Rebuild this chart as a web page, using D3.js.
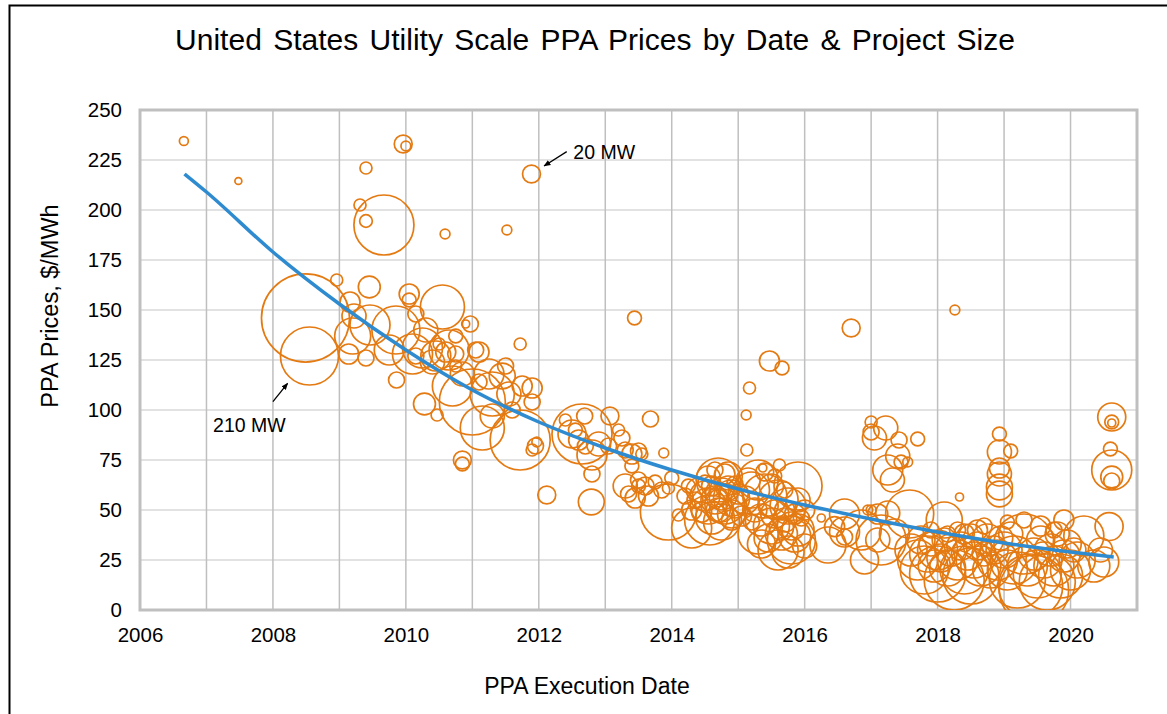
<!DOCTYPE html>
<html>
<head>
<meta charset="utf-8">
<script src="https://cdn.jsdelivr.net/npm/d3@7"></script>
<style>
  body { margin: 0; background: #fff; }
  svg { display: block; font-family: "Liberation Sans", Arial, sans-serif; }
</style>
</head>
<body>
<div id="chart"></div>
<script>
(function() {
  var W = 1167, H = 714;

  // PPA execution date (decimal year), price ($/MWh), project size (MW)
  var ppaDate = [
    2006.66, 2007.48, 2009.4, 2009.31, 2009.4, 2009.67, 2008.96, 2008.49, 2008.55, 2009.16,
    2009.45, 2009.46, 2009.22, 2009.14, 2009.4, 2009.86, 2009.2, 2009.96, 2010.0, 2010.05,
    2010.05, 2010.55, 2010.97, 2010.9, 2011.05, 2010.59, 2011.52, 2011.89, 2011.72, 2013.44,
    2009.85, 2010.25, 2010.6, 2010.4, 2010.75, 2010.5, 2010.15, 2010.3, 2010.75, 2010.15,
    2009.75, 2010.1, 2010.45, 2010.65, 2011.1,
    2011.0, 2011.15, 2011.72, 2011.95, 2011.9, 2011.97, 2012.12, 2012.65, 2012.8, 2012.8,
    2012.79, 2012.69, 2013.07, 2013.3, 2013.35, 2011.9, 2011.9, 2010.28, 2010.47, 2010.85, 2010.85,
    2010.7, 2010.85, 2011.25, 2011.45, 2011.3, 2011.55, 2011.75, 2011.3, 2011.1, 2011.6, 2010.75, 2011.5,
    2012.5, 2012.6, 2012.55, 2012.7, 2012.9, 2013.05, 2013.25, 2013.4, 2013.4, 2013.2, 2012.4,
    2013.3, 2013.45, 2013.5,
    2015.17, 2015.12, 2015.13, 2013.68, 2013.5, 2013.55, 2013.88, 2015.62, 2015.37, 2015.47, 2015.66,
    2013.6, 2013.75, 2013.85, 2013.65, 2013.95, 2013.5, 2014.0, 2014.3, 2014.1, 2013.95,
    2014.4, 2014.5, 2014.55, 2014.6, 2014.65, 2014.7, 2014.7, 2014.75, 2014.8, 2014.8,
    2014.85, 2014.9, 2014.9, 2014.95, 2014.95, 2014.6, 2014.45, 2014.35, 2014.75, 2014.85,
    2014.65, 2014.55, 2015.0, 2014.5, 2014.7, 2014.8, 2014.2, 2014.25, 2014.3, 2014.57,
    2015.1, 2015.2, 2015.25, 2015.3, 2015.35, 2015.4, 2015.45, 2015.5, 2015.5, 2015.55,
    2015.6, 2015.65, 2015.7, 2015.7, 2015.75, 2015.8, 2015.8, 2015.85, 2015.9, 2015.9,
    2015.95, 2016.0, 2015.2, 2015.3, 2015.15, 2015.05, 2015.6, 2015.75, 2016.0, 2015.4,
    2015.55, 2015.9, 2015.45, 2015.65, 2015.85, 2014.75, 2014.9, 2015.35, 2015.7,
    2016.25, 2016.45, 2016.6, 2016.35, 2016.9, 2016.6, 2016.95, 2016.85, 2017.15, 2017.1, 2016.6,
    2016.7, 2018.26,
    2017.22, 2017.42, 2017.7, 2017.45, 2017.55, 2017.25, 2017.32, 2017.0, 2017.0, 2017.05, 2017.4,
    2018.33, 2017.0, 2017.58, 2018.1, 2017.25, 2017.35, 2017.1,
    2017.6, 2017.7, 2017.75, 2017.8, 2017.85, 2017.9, 2017.95, 2018.0, 2018.0, 2018.05,
    2018.1, 2018.15, 2018.2, 2018.25, 2018.3, 2018.35, 2018.4, 2018.45, 2018.5, 2018.5,
    2018.55, 2018.6, 2018.65, 2018.7, 2018.75, 2018.8, 2018.85, 2018.9, 2018.4, 2018.3,
    2018.6, 2018.15, 2017.9, 2018.95, 2018.7,
    2018.93, 2018.93, 2019.1, 2018.93, 2018.93, 2018.93, 2018.93,
    2019.0, 2019.05, 2019.1, 2019.15, 2019.2, 2019.3, 2019.35, 2019.4, 2019.45, 2019.5,
    2019.55, 2019.6, 2019.65, 2019.7, 2019.75, 2019.8, 2019.85, 2019.9, 2019.95, 2020.0,
    2020.05, 2020.1, 2019.55, 2019.75, 2019.3, 2019.05, 2019.9, 2019.45,
    2020.35, 2020.2, 2020.45, 2020.5, 2020.58,
    2020.62, 2020.62, 2020.62, 2020.6, 2020.62, 2020.62, 2020.62
  ];

  var ppaPrice = [
    234.5, 214.5, 221, 202.5, 194.5, 192.5, 165, 146, 127, 154,
    161.5, 142.5, 147, 128, 126, 115, 137, 233, 232, 158,
    155, 151.5, 143, 143, 130, 188, 190, 218, 133, 146,
    140, 131, 129, 124, 128, 133, 127, 140, 137, 148,
    130, 128, 127, 130, 129,
    104, 91, 85, 82, 80, 84, 57.5, 88, 77.5, 68,
    54, 97, 97, 80, 58, 111, 104, 103, 97.5, 75, 73,
    112, 118, 118, 117, 108, 108, 112, 97, 114, 100, 122, 122,
    88, 85, 90, 82, 83, 82, 86, 78, 72, 90, 95,
    62, 56, 62,
    111, 97.5, 80, 95.5, 79.5, 78, 78.5, 72.5, 71, 124.5, 121,
    62, 64, 60, 57, 61, 65, 66, 41, 47.5, 49,
    60, 57, 52, 62, 55, 50, 65, 58, 53, 68,
    61, 56, 48, 63, 52, 46, 49, 55, 44, 67,
    70, 66, 58, 64, 56, 60, 57, 62, 50, 45,
    55, 60, 50, 65, 45, 57, 52, 62, 42, 48,
    55, 38, 45, 60, 52, 42, 35, 48, 55, 40,
    46, 50, 44, 38, 65, 47, 30, 29, 32, 69,
    67, 62, 36, 41, 37, 50, 45, 33, 50,
    46, 41.7, 48, 32.5, 25, 39, 50, 40, 35, 48, 36.5,
    141, 150,
    91, 85, 85.5, 74, 74, 70, 65, 94, 89, 86, 77,
    56.5, 50, 48, 45, 48.5, 38, 35,
    30, 25, 35, 20, 28, 33, 22, 30, 18, 26,
    35, 21, 30, 15, 25, 32, 20, 28, 37, 17,
    25, 32, 22, 28, 35, 20, 30, 25, 38, 40,
    40, 38, 40, 36, 42,
    88, 79, 79.5, 71, 68, 61.5, 58,
    30, 20, 38, 25, 15, 33, 22, 12, 28, 18,
    35, 25, 14, 30, 22, 38, 17, 27, 33, 20,
    30, 25, 42, 40, 45, 44, 45, 10,
    22, 37, 30, 24, 41.7,
    96.5, 94, 93.5, 80.5, 70, 66.5, 64.5
  ];

  var ppaMW = [
    5, 3, 9, 9, 10, 225, 9, 484, 210, 25,
    30, 100, 36, 25, 16, 16, 81, 20, 6, 25,
    12, 121, 16, 4, 16, 6, 6, 20, 9, 12,
    144, 100, 25, 36, 16, 9, 16, 36, 12, 16,
    56, 100, 56, 100, 25,
    272, 121, 225, 16, 9, 6, 20, 225, 56, 16,
    42, 16, 20, 16, 16, 25, 16, 30, 9, 20, 12,
    100, 36, 56, 42, 121, 36, 25, 36, 16, 16, 9, 16,
    49, 25, 12, 16, 36, 16, 16, 25, 12, 9, 9,
    36, 25, 12,
    9, 6, 9, 16, 16, 9, 6, 9, 4, 25, 12,
    20, 12, 16, 25, 9, 16, 12, 100, 9, 196,
    36, 56, 81, 25, 49, 36, 121, 64, 100, 25,
    36, 81, 49, 16, 36, 64, 25, 16, 81, 49,
    16, 36, 25, 12, 20, 9, 16, 12, 25, 156,
    49, 81, 36, 100, 64, 121, 25, 36, 81, 49,
    100, 64, 36, 16, 81, 49, 144, 25, 36, 64,
    16, 25, 16, 100, 36, 25, 100, 64, 36, 20,
    12, 144, 49, 36, 64, 36, 25, 49, 25,
    4, 25, 56, 81, 49, 56, 6, 100, 156, 25, 16,
    20, 6,
    36, 16, 12, 12, 6, 56, 36, 9, 16, 36, 36,
    4, 6, 144, 81, 36, 56, 36,
    64, 100, 49, 144, 81, 36, 64, 100, 196, 49,
    36, 81, 64, 225, 100, 49, 144, 64, 36, 196,
    81, 49, 100, 36, 64, 81, 49, 100, 25, 16,
    25, 16, 16, 36, 16,
    12, 36, 12, 25, 36, 42, 42,
    81, 100, 36, 144, 196, 225, 100, 256, 64, 144,
    49, 81, 196, 64, 100, 36, 121, 64, 49, 100,
    36, 81, 25, 16, 16, 12, 25, 300,
    64, 100, 36, 56, 49,
    49, 12, 4, 12, 100, 30, 16
  ];

  // power trendline
  var trendDate = [2006.67, 2007, 2008, 2009, 2010, 2011, 2012, 2013, 2014, 2015, 2016, 2017, 2018, 2019, 2020, 2020.65];
  var trendPrice = [218, 209, 179, 153, 130, 110, 94, 81, 70, 60.5, 52.5, 45.5, 39, 33.5, 29, 26.5];

  var yearTicks = [2006, 2008, 2010, 2012, 2014, 2016, 2018, 2020];
  var yearGrid = d3.range(2007, 2021);
  var priceTicks = [0, 25, 50, 75, 100, 125, 150, 175, 200, 225, 250];

  // callouts: bubble pointed at, label spot and arrow tail in data units
  var notes = [
    { text: "20 MW", date: 2011.89, price: 218, tx: 2012.52, ty: 225.5, ax: 2012.42, ay: 229.2 },
    { text: "210 MW", date: 2008.55, price: 127, tx: 2007.1, ty: 89, ax: 2008.0, ay: 104.2 }
  ];

  var data = ppaDate.map(function(d, i) {
    return { date: d, price: ppaPrice[i], mw: ppaMW[i] };
  });

  var x = d3.scaleLinear().domain([2006, 2021]).range([140, 1137]);
  var y = d3.scaleLinear().domain([0, 250]).range([610, 110]);
  var r = d3.scaleSqrt().domain([0, 210]).range([0, 29]);

  var svg = d3.select("#chart").append("svg").attr("width", W).attr("height", H);
  var defs = svg.append("defs");

  defs.append("clipPath").attr("id", "plotclip")
    .append("rect").attr("x", x(2006)).attr("y", y(250)).attr("width", x(2021) - x(2006)).attr("height", y(0) - y(250));

  defs.append("marker").attr("id", "arrow")
    .attr("viewBox", "0 0 10 10").attr("refX", 9).attr("refY", 5)
    .attr("markerWidth", 7).attr("markerHeight", 7).attr("markerUnits", "userSpaceOnUse")
    .attr("orient", "auto")
    .append("path").attr("d", "M0,1 L10,5 L0,9 Z").attr("fill", "#000");

  // outer frame
  svg.append("rect").attr("x", 9.5).attr("y", 5.5).attr("width", 1300).attr("height", 900)
    .attr("fill", "none").attr("stroke", "#000").attr("stroke-width", 2);

  svg.append("text").attr("x", 595).attr("y", 50).attr("text-anchor", "middle")
    .style("font-size", "30px").style("word-spacing", "3px").attr("fill", "#000")
    .text("United States Utility Scale PPA Prices by Date & Project Size");

  // gridlines
  svg.append("g").selectAll("line").data(priceTicks.slice(1, -1)).enter().append("line")
    .attr("x1", x(2006)).attr("x2", x(2021))
    .attr("y1", function(d) { return y(d); }).attr("y2", function(d) { return y(d); })
    .attr("stroke", "#d9d9d9").attr("stroke-width", 1.5);

  svg.append("g").selectAll("line").data(yearGrid).enter().append("line")
    .attr("y1", y(0)).attr("y2", y(250))
    .attr("x1", function(d) { return x(d); }).attr("x2", function(d) { return x(d); })
    .attr("stroke", "#bfbfbf").attr("stroke-width", 1.5);

  svg.append("rect").attr("x", x(2006)).attr("y", y(250))
    .attr("width", x(2021) - x(2006)).attr("height", y(0) - y(250))
    .attr("fill", "none").attr("stroke", "#bfbfbf").attr("stroke-width", 3);

  // bubbles
  svg.append("g").attr("clip-path", "url(#plotclip)")
    .selectAll("circle").data(data).enter().append("circle")
    .attr("cx", function(d) { return x(d.date); })
    .attr("cy", function(d) { return y(d.price); })
    .attr("r", function(d) { return r(d.mw); })
    .attr("fill", "none").attr("stroke", "#e47a12").attr("stroke-width", 1.7);

  // trend
  var line = d3.line()
    .x(function(d) { return x(d); })
    .y(function(d, i) { return y(trendPrice[i]); })
    .curve(d3.curveMonotoneX);
  svg.append("path").datum(trendDate).attr("d", line)
    .attr("fill", "none").attr("stroke", "#2f8bd0").attr("stroke-width", 3.5);

  // axes
  var yAxis = svg.append("g").attr("transform", "translate(" + x(2006) + ",0)")
    .call(d3.axisLeft(y).tickValues(priceTicks).tickSize(0).tickPadding(18));
  var xAxis = svg.append("g").attr("transform", "translate(0," + y(0) + ")")
    .call(d3.axisBottom(x).tickValues(yearTicks).tickFormat(d3.format("d")).tickSize(0).tickPadding(17));
  [yAxis, xAxis].forEach(function(g) {
    g.select(".domain").remove();
    g.selectAll("text").style("font-size", "20.5px").style("font-family", "Liberation Sans, Arial, sans-serif").attr("fill", "#000");
  });

  svg.append("text").attr("transform", "translate(58,306) rotate(-90)").attr("text-anchor", "middle")
    .style("font-size", "23.5px").attr("fill", "#000").text("PPA Prices, $/MWh");
  svg.append("text").attr("x", 587).attr("y", 694).attr("text-anchor", "middle")
    .style("font-size", "23px").attr("fill", "#000").text("PPA Execution Date");

  // annotations
  var ann = svg.append("g").selectAll("g").data(notes).enter().append("g");
  ann.append("text")
    .attr("x", function(d) { return x(d.tx); }).attr("y", function(d) { return y(d.ty); })
    .style("font-size", "19.5px").attr("fill", "#000")
    .text(function(d) { return d.text; });
  ann.append("line")
    .attr("x1", function(d) { return x(d.ax); }).attr("y1", function(d) { return y(d.ay); })
    .attr("x2", function(d) { return headPoint(d)[0]; })
    .attr("y2", function(d) { return headPoint(d)[1]; })
    .attr("stroke", "#000").attr("stroke-width", 1.3).attr("marker-end", "url(#arrow)");

  function headPoint(d) {
    var bub = data.find(function(b) { return b.date === d.date && b.price === d.price; });
    var cx = x(d.date), cy = y(d.price), dx = x(d.ax) - cx, dy = y(d.ay) - cy;
    var len = Math.sqrt(dx * dx + dy * dy), k = (r(bub.mw) + 6) / len;
    return [cx + dx * k, cy + dy * k];
  }
})();
</script>
</body>
</html>
